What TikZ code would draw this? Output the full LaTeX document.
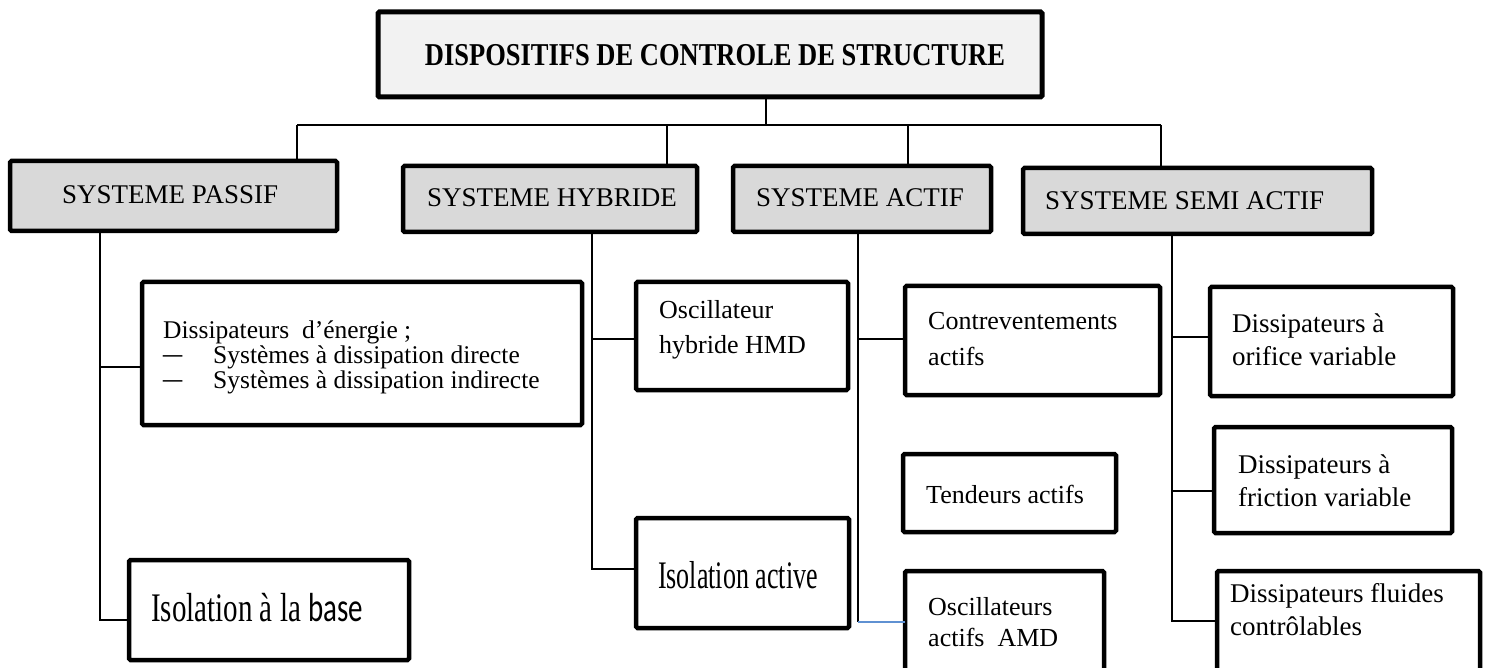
\documentclass[tikz,border=0pt]{standalone}
\usepackage{fontspec}
\setmainfont{Liberation Serif}
\newfontfamily\calib{Carlito}
\usepackage{graphicx}
\definecolor{catgray}{HTML}{D9D9D9}
\definecolor{headgray}{HTML}{F2F2F2}
\definecolor{linkblue}{RGB}{95,145,210}
\begin{document}
\begin{tikzpicture}[x=1pt,y=-1pt,
  box/.style={draw=black, line width=4.5pt, rounded corners=1.5pt, inner sep=0pt, outer sep=0pt, anchor=north west},
  catbox/.style={box, fill=catgray},
  leafbox/.style={box, fill=white},
  headbox/.style={box, fill=headgray, line width=5pt},
  conn/.style={line width=1.4pt, black},
  cattext/.style={font=\fontsize{27}{30}\selectfont, inner sep=0pt, anchor=west},
  lt/.style={font=\fontsize{26}{30}\selectfont, inner sep=0pt, anchor=base west},
  ltb/.style={font=\fontsize{27}{30}\selectfont, inner sep=0pt, anchor=base west},
  lts/.style={font=\fontsize{25.5}{30}\selectfont, inner sep=0pt, anchor=base west},
]
\useasboundingbox (0,0) rectangle (1486,668);
\clip (0,0) rectangle (1486,668);

% boxes
\node[headbox, minimum width=664pt, minimum height=85pt] (head) at (378,12) {};
\node[catbox, minimum width=327pt, minimum height=70pt] (passif) at (10,161) {};
\node[catbox, minimum width=294pt, minimum height=66pt] (hybride) at (403,166) {};
\node[catbox, minimum width=258pt, minimum height=66pt] (actif) at (733,166) {};
\node[catbox, minimum width=349pt, minimum height=66pt] (semi) at (1023,168) {};

\node[leafbox, minimum width=440pt, minimum height=143pt] (dissip) at (142,282) {};
\node[leafbox, minimum width=280pt, minimum height=100pt] (base) at (129,560) {};
\node[leafbox, minimum width=212pt, minimum height=108pt] (osch) at (636,282) {};
\node[leafbox, minimum width=213pt, minimum height=110pt] (isoa) at (636,518) {};
\node[leafbox, minimum width=255pt, minimum height=109pt] (contre) at (905,286) {};
\node[leafbox, minimum width=213pt, minimum height=78pt] (tend) at (903,454) {};
\node[leafbox, minimum width=199pt, minimum height=119pt] (amd) at (905,571) {};
\node[leafbox, minimum width=243pt, minimum height=109pt] (orif) at (1210,287) {};
\node[leafbox, minimum width=238pt, minimum height=106pt] (fric) at (1214,427) {};
\node[leafbox, minimum width=263pt, minimum height=119pt] (fluid) at (1217,571) {};

% junctions
\coordinate (jT) at (766,125);
\coordinate (jP) at (297,125);
\coordinate (jH) at (667,125);
\coordinate (jA) at (908,125);
\coordinate (jS) at (1161,125);
\coordinate (ps1) at (100,367);
\coordinate (ps2) at (100,620);
\coordinate (hs1) at (592,339);
\coordinate (hs2) at (592,569);
\coordinate (as1) at (858,339);
\coordinate (as2) at (858,622);
\coordinate (ss1) at (1172,337);
\coordinate (ss2) at (1172,491);
\coordinate (ss3) at (1172,621);

% connectors
\draw[conn] (jT |- head.south) -- (jT);
\draw[conn] (jP) -- (jS);
\draw[conn] (jP) -- (jP |- passif.north);
\draw[conn] (jH) -- (jH |- hybride.north);
\draw[conn] (jA) -- (jA |- actif.north);
\draw[conn] (jS) -- (jS |- semi.north);

\draw[conn] (ps2 |- passif.south) -- (ps2) -- (ps2 -| base.west);
\draw[conn] (ps1) -- (ps1 -| dissip.west);

\draw[conn] (hs2 |- hybride.south) -- (hs2) -- (hs2 -| isoa.west);
\draw[conn] (hs1) -- (hs1 -| osch.west);

\draw[conn] (as2 |- actif.south) -- (as2);
\draw[conn] (as1) -- (as1 -| contre.west);
\draw[conn, linkblue] (as2) -- (as2 -| amd.west);

\draw[conn] (ss3 |- semi.south) -- (ss3) -- (ss3 -| fluid.west);
\draw[conn] (ss1) -- (ss1 -| orif.west);
\draw[conn] (ss2) -- (ss2 -| fric.west);

% texts
\node[inner sep=0pt, font=\bfseries\fontsize{26.5}{30}\selectfont] (headt) at (715,55) {\scalebox{1}[1.2]{DISPOSITIFS DE CONTROLE DE STRUCTURE}};
\node[cattext] (passift) at (62,195) {SYSTEME PASSIF};
\node[cattext] (hybridet) at (427,198) {SYSTEME HYBRIDE};
\node[cattext] (actift) at (756,198) {SYSTEME ACTIF};
\node[cattext] (semit) at (1045,201) {SYSTEME SEMI ACTIF};

\node[lts] (d1) at (163,338) {Dissipateurs\ \ d’énergie ;};
\node[lts] (d2a) at (163,363) {\scalebox{1.5}[1.2]{–}};
\node[lts] (d2) at (213,363) {Systèmes à dissipation directe};
\node[lts] (d3a) at (163,388) {\scalebox{1.5}[1.2]{–}};
\node[lts] (d3) at (213,388) {Systèmes à dissipation indirecte};

\node[inner sep=0pt, anchor=base west, font=\fontsize{29}{30}\selectfont] (baset) at (151,621) {\scalebox{1}[1.4]{Isolation à la {\calib base}}};
\node[lt] (isoat) at (658,588) {\scalebox{1}[1.5]{Isolation active}};

\node[lt] (osch1) at (659,319) {Oscillateur};
\node[lt] (osch2) at (659,353) {hybride HMD};

\node[lt] (contre1) at (928,330) {Contreventements};
\node[lt] (contre2) at (928,365) {actifs};
\node[lt] (tendt) at (926,503) {Tendeurs actifs};
\node[lt] (amd1) at (928,615) {Oscillateurs};
\node[lt] (amd2) at (928,646) {actifs\ \ AMD};

\node[ltb] (orif1) at (1232,333) {Dissipateurs à};
\node[ltb] (orif2) at (1232,366) {orifice variable};
\node[ltb] (fric1) at (1238,473) {Dissipateurs à};
\node[ltb] (fric2) at (1238,506) {friction variable};
\node[ltb] (fluid1) at (1230,602) {Dissipateurs fluides};
\node[ltb] (fluid2) at (1230,635) {contrôlables};
\end{tikzpicture}
\end{document}
